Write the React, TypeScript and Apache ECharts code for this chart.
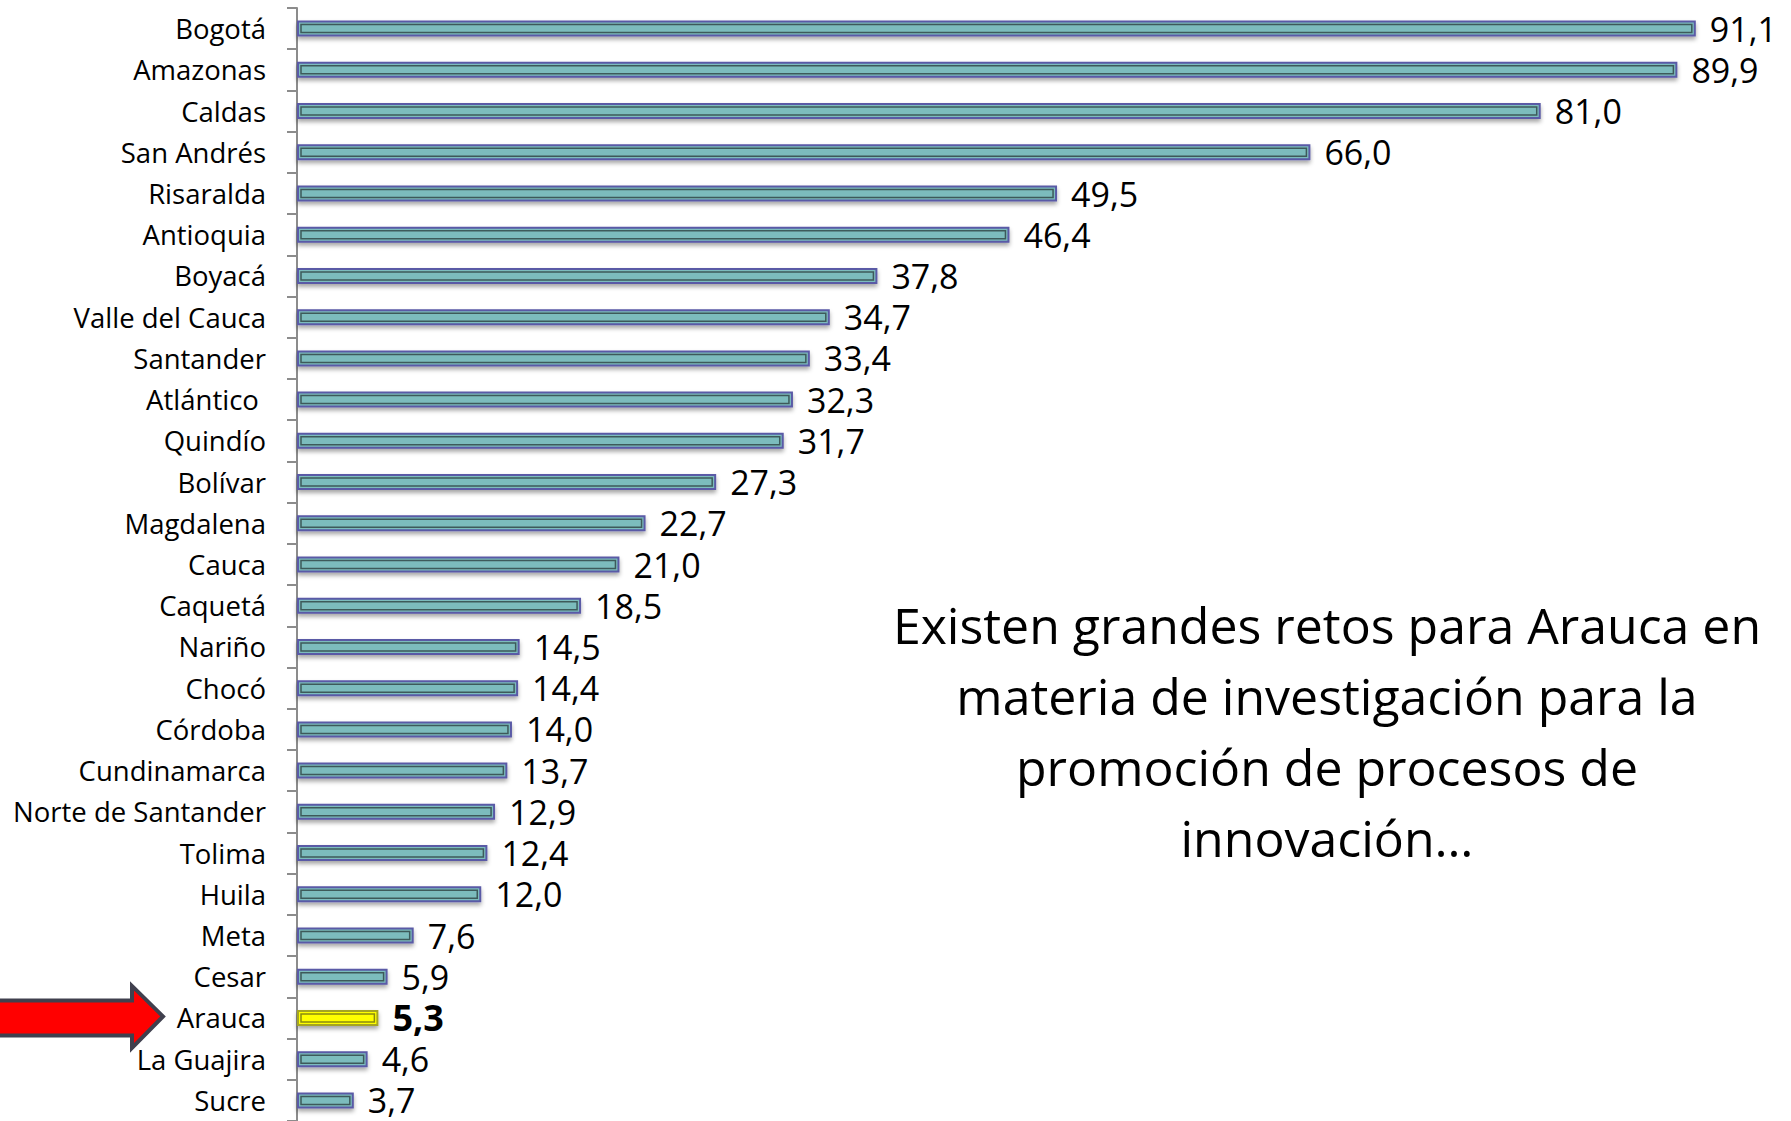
import React, { useEffect, useRef } from 'react';
import * as echarts from 'echarts';

const categories = [
  'Bogotá', 'Amazonas', 'Caldas', 'San Andrés', 'Risaralda', 'Antioquia', 'Boyacá',
  'Valle del Cauca', 'Santander', 'Atlántico ', 'Quindío', 'Bolívar', 'Magdalena', 'Cauca',
  'Caquetá', 'Nariño', 'Chocó', 'Córdoba', 'Cundinamarca', 'Norte de Santander', 'Tolima',
  'Huila', 'Meta', 'Cesar', 'Arauca', 'La Guajira', 'Sucre',
];
const values = [
  91.1, 89.9, 81.0, 66.0, 49.5, 46.4, 37.8, 34.7, 33.4, 32.3, 31.7, 27.3, 22.7, 21.0,
  18.5, 14.5, 14.4, 14.0, 13.7, 12.9, 12.4, 12.0, 7.6, 5.9, 5.3, 4.6, 3.7,
];
const highlight = 'Arauca';
const noteLines = [
  'Existen grandes retos para Arauca en',
  'materia de investigación para la',
  'promoción de procesos de',
  'innovación…',
];

const FONT = '"Open Sans", "Noto Sans", sans-serif';

export default function App() {
  const ref = useRef<HTMLDivElement>(null);
  useEffect(() => {
    const chart = echarts.init(ref.current!, null, { renderer: 'svg' });
    const fmt = (v: number) => v.toFixed(1).replace('.', ',');
    const barData = values.map((v, i) => {
      const hi = categories[i] === highlight;
      return {
        value: v,
        itemStyle: hi ? { color: '#ffff00', borderColor: '#a5a520' } : undefined,
        label: hi ? { fontWeight: 'bold', fontSize: 36 } : undefined,
      };
    });
    chart.setOption({
      animation: false,
      grid: { left: 297, top: 8, right: 0, height: 1121 },
      xAxis: { type: 'value', min: 0, max: 97.3, show: false },
      yAxis: {
        type: 'category',
        data: categories,
        inverse: true,
        axisLine: { show: true, lineStyle: { color: '#8c8c8c', width: 2 } },
        axisTick: { show: true, length: 10, lineStyle: { color: '#8c8c8c', width: 2 } },
        axisLabel: { margin: 31, fontSize: 27.5, color: '#000', fontFamily: FONT },
      },
      series: [
        {
          type: 'bar',
          data: barData,
          barWidth: 16,
          itemStyle: {
            color: '#7bbcbd',
            borderColor: '#5a5aa6',
            borderWidth: 2,
            shadowBlur: 4,
            shadowOffsetY: 3,
            shadowColor: 'rgba(0,0,0,0.35)',
          },
          label: {
            show: true,
            position: 'right',
            distance: 14,
            fontSize: 34,
            fontFamily: FONT,
            color: '#000',
            formatter: (p: any) => fmt(p.value),
          },
        },
        {
          type: 'custom',
          silent: true,
          z: 3,
          encode: { x: 0, y: 1 },
          data: values.map((v, i) => [v, i]),
          renderItem: (params: any, api: any) => {
            const end = api.coord([api.value(0), api.value(1)]);
            const start = api.coord([0, api.value(1)]);
            const hi = categories[params.dataIndex] === highlight;
            return {
              type: 'rect',
              shape: { x: start[0] + 4, y: end[1] - 4, width: Math.max(end[0] - start[0] - 8, 1), height: 8 },
              style: { fill: 'none', stroke: hi ? '#8a8a10' : '#3d5a5a', lineWidth: 1.5 },
            };
          },
        },
      ],
      graphic: [
        {
          id: 'note',
          type: 'text',
          x: 1327,
          y: 731,
          style: {
            text: noteLines.join('\n'),
            fontSize: 50,
            fontFamily: FONT,
            fill: '#000',
            align: 'center',
            verticalAlign: 'middle',
            lineHeight: 71,
          },
        },
      ],
    });
    const yc = chart.convertToPixel({ yAxisIndex: 0 }, highlight) as number;
    chart.setOption({
      graphic: [
        {
          id: 'arrow',
          type: 'polygon',
          shape: {
            points: [
              [-6, yc - 17.5],
              [132, yc - 17.5],
              [132, yc - 32],
              [163, yc - 1.5],
              [132, yc + 30],
              [132, yc + 17.5],
              [-6, yc + 17.5],
            ],
          },
          style: { fill: '#ff0000', stroke: '#40404e', lineWidth: 4 },
        },
      ],
    });
    return () => chart.dispose();
  }, []);
  return (
    <div
      ref={ref}
      style={{ position: 'fixed', left: 0, top: 0, width: 1791, height: 1121, background: '#fff' }}
    />
  );
}
